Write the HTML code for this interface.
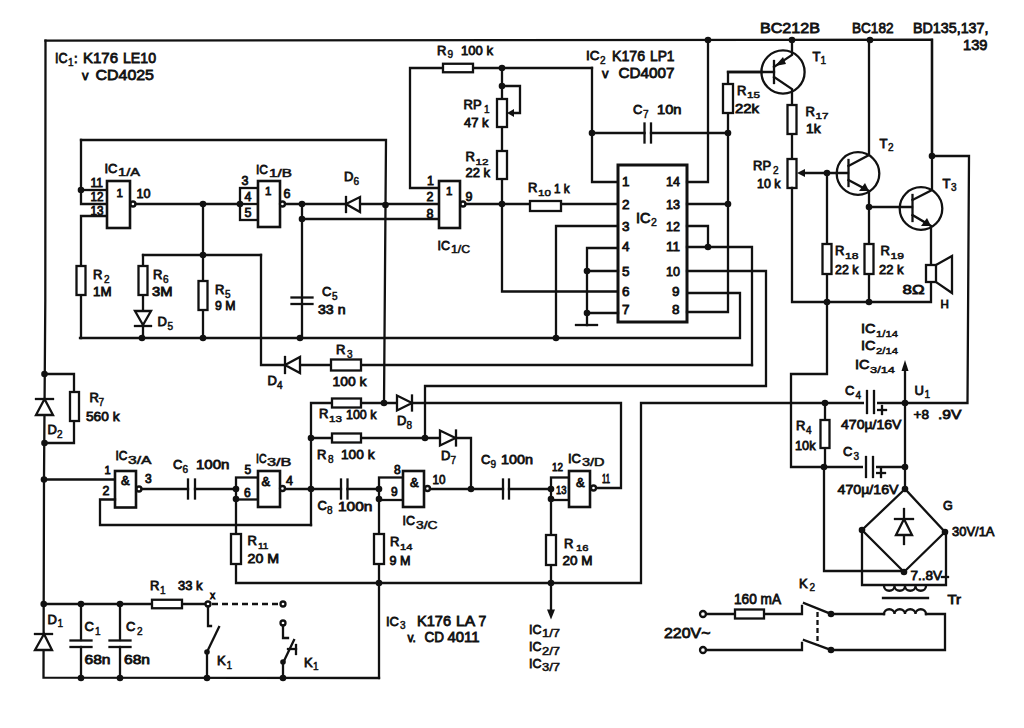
<!DOCTYPE html>
<html><head><meta charset="utf-8"><title>Schematic</title>
<style>
html,body{margin:0;padding:0;background:#fff;width:1024px;height:728px;overflow:hidden}
svg{display:block}
polyline,line,path.n{fill:none;stroke:#111;stroke-width:2.3;stroke-linejoin:miter;stroke-linecap:square}
line{stroke-linecap:butt}
.w{fill:#fff;stroke:#111;stroke-width:2.3}
.d{fill:#111;stroke:none}
text.s{stroke-width:0.5px}
text{font-family:"Liberation Sans",sans-serif;fill:#111;font-weight:normal;stroke:#111;stroke-width:0.8px}
</style></head>
<body>
<svg width="1024" height="728" viewBox="0 0 1024 728">
<rect width="1024" height="728" fill="#fff"/>
<polyline points="45.5,40.7 932,39.6 932,156"/>
<polyline points="45.5,40.7 45.3,300 44,480 43.5,677.7 379,678"/>
<polyline points="81,140 386,140 384,403"/>
<polyline points="81,140 81,204 107,204"/>
<polyline points="81,190 107,190"/>
<circle cx="81" cy="190" r="3.3" class="d"/>
<polyline points="107,216 81,216 81,338"/>
<rect x="107" y="181" width="23" height="47" class="w" style="stroke-width:2.6"/>
<circle cx="133" cy="204" r="2.5" class="w"/>
<polyline points="135.5,204 240,204"/>
<circle cx="203" cy="204" r="3.3" class="d"/>
<polyline points="203,204 203,338"/>
<circle cx="203" cy="255" r="3.3" class="d"/>
<polyline points="143,255 261,255"/>
<polyline points="143,255 143,338"/>
<polyline points="261,255 261,365 752,365"/>
<polyline points="80,338 740,338 740,293 687,293"/>
<circle cx="142" cy="338" r="3.3" class="d"/>
<circle cx="203" cy="338" r="3.3" class="d"/>
<rect x="76.5" y="266" width="9.0" height="29" class="w"/>
<rect x="138.5" y="266" width="9.0" height="29" class="w"/>
<rect x="198.5" y="281" width="9.0" height="29" class="w"/>
<polygon points="135,311 151,311 143,325" class="w"/>
<polyline points="135,326 151,326"/>
<rect x="240" y="188" width="18" height="32" class="w"/>
<polyline points="240,204 258,204"/>
<rect x="258" y="181" width="22" height="46" class="w" style="stroke-width:2.6"/>
<circle cx="282.5" cy="204" r="2.5" class="w"/>
<circle cx="240" cy="204" r="3.3" class="d"/>
<polyline points="285,204 439,204"/>
<circle cx="302" cy="204" r="3.3" class="d"/>
<circle cx="302" cy="219" r="3.3" class="d"/>
<polyline points="302,204 302,338"/>
<polyline points="302,219 439,219"/>
<polyline points="291.5,297.5 312.5,297.5"/>
<polyline points="291.5,304 312.5,304"/>
<circle cx="300" cy="338" r="3.3" class="d"/>
<circle cx="385.5" cy="205" r="3.3" class="d"/>
<polygon points="346,204 360,197 360,212" class="w"/>
<polyline points="346,197 346,212"/>
<polyline points="439,188 410,188 410,68 592,68"/>
<rect x="443" y="63.75" width="30" height="8.5" class="w"/>
<circle cx="502" cy="68" r="3.3" class="d"/>
<rect x="439" y="181" width="21" height="47" class="w" style="stroke-width:2.6"/>
<circle cx="463" cy="204" r="2.5" class="w"/>
<polyline points="465.5,204 617,204"/>
<circle cx="502" cy="204" r="3.3" class="d"/>
<rect x="530" y="201.0" width="31" height="10.0" class="w"/>
<polyline points="502,68 502,291.5 618,291.5"/>
<rect x="497.0" y="99" width="10.0" height="28" class="w"/>
<rect x="497.0" y="151" width="10.0" height="28" class="w"/>
<circle cx="502" cy="86" r="3.3" class="d"/>
<polyline points="502,86 520,86 520,113 512,113"/>
<polygon points="507,113 514,109 514,117" class="d"/>
<polyline points="592,68 592,182 617,182"/>
<circle cx="592" cy="133" r="3.3" class="d"/>
<polyline points="592,133 644.5,133"/>
<polyline points="651,133 728,133"/>
<polyline points="644.5,123.5 644.5,142.5"/>
<polyline points="651,123.5 651,142.5"/>
<rect x="618" y="165" width="69" height="157" class="w" style="stroke-width:3"/>
<polyline points="556,338 556,226 617,226"/>
<circle cx="556" cy="338" r="3.3" class="d"/>
<polyline points="617,248 587,248 587,325"/>
<polyline points="576,325 597,325"/>
<polyline points="587,271 618,271"/>
<polyline points="587,313 618,313"/>
<circle cx="587" cy="271" r="3.3" class="d"/>
<circle cx="587" cy="313" r="3.3" class="d"/>
<polyline points="687,182 708,182 708,40"/>
<circle cx="708" cy="40" r="3.3" class="d"/>
<polyline points="687,204 728,204"/>
<circle cx="728" cy="204" r="3.3" class="d"/>
<polyline points="687,226 708,226 708,247"/>
<polyline points="687,247 752,247 752,365"/>
<circle cx="708" cy="247" r="3.3" class="d"/>
<polyline points="687,271 766,271 766,386 425,386 425,438"/>
<polyline points="687,312 728,312 728,72 762,72"/>
<circle cx="728" cy="133" r="3.3" class="d"/>
<rect x="723.0" y="84" width="10.0" height="29" class="w"/>
<polygon points="285,365 300,357 300,373" class="w"/>
<polyline points="285,357 285,373"/>
<rect x="331" y="359.5" width="30" height="11.0" class="w"/>
<polyline points="311,525 311,403 397,403"/>
<rect x="332" y="398.5" width="29" height="9.0" class="w"/>
<circle cx="384" cy="403" r="3.3" class="d"/>
<polygon points="397,395.5 397,410.5 412,403" class="w"/>
<polyline points="412,395.5 412,410.5"/>
<polyline points="412,403 621,403 621,488 596,488"/>
<polyline points="311,438 440,438"/>
<rect x="332" y="433.5" width="29" height="9.0" class="w"/>
<circle cx="311" cy="438" r="3.3" class="d"/>
<circle cx="425" cy="438" r="3.3" class="d"/>
<polygon points="440,430.5 440,445.5 455.5,438" class="w"/>
<polyline points="456,430.5 456,445.5"/>
<polyline points="456,438 471,438 471,489"/>
<circle cx="471" cy="489" r="3.3" class="d"/>
<circle cx="44" cy="479.5" r="3.3" class="d"/>
<polyline points="44,479.5 115,479.5"/>
<rect x="115" y="471" width="21" height="36.5" class="w" style="stroke-width:2.6"/>
<polyline points="115,499.5 100,499.5 100,525 311,525"/>
<circle cx="139" cy="489" r="2.5" class="w"/>
<polyline points="141.5,489 188,489"/>
<polyline points="195,489 236,489"/>
<polyline points="188,479.5 188,498.5"/>
<polyline points="195,479.5 195,498.5"/>
<rect x="236" y="477.5" width="22" height="22.0" class="w"/>
<rect x="258" y="471" width="22" height="36" class="w" style="stroke-width:2.6"/>
<circle cx="236" cy="489" r="3.3" class="d"/>
<circle cx="236" cy="499" r="3.3" class="d"/>
<circle cx="282.5" cy="488.5" r="2.5" class="w"/>
<polyline points="285,489 341,489"/>
<polyline points="347.5,489 379,489"/>
<polyline points="341,479.5 341,498.5"/>
<polyline points="347.5,479.5 347.5,498.5"/>
<circle cx="311" cy="489" r="3.3" class="d"/>
<polyline points="236,499 236,583 641,583 641,403 967.5,403 969,156 932,156"/>
<rect x="231.0" y="534" width="10.0" height="30" class="w"/>
<circle cx="379" cy="583" r="3.3" class="d"/>
<polyline points="379,499 379,678"/>
<rect x="374.0" y="534" width="10.0" height="30" class="w"/>
<rect x="379" y="477.5" width="24" height="22.5" class="w"/>
<rect x="403" y="471" width="21" height="36" class="w" style="stroke-width:2.6"/>
<circle cx="379" cy="489" r="3.3" class="d"/>
<circle cx="379" cy="499" r="3.3" class="d"/>
<circle cx="427.5" cy="488.5" r="2.5" class="w"/>
<polyline points="430,489 503,489"/>
<polyline points="509,489 551,489"/>
<polyline points="503,479.5 503,498.5"/>
<polyline points="509,479.5 509,498.5"/>
<rect x="551" y="477.5" width="18" height="22.5" class="w"/>
<rect x="569" y="471" width="21" height="36" class="w" style="stroke-width:2.6"/>
<circle cx="551" cy="489" r="3.3" class="d"/>
<circle cx="551" cy="499" r="3.3" class="d"/>
<circle cx="593.5" cy="488" r="2.5" class="w"/>
<polyline points="551,499 551,611"/>
<rect x="546.0" y="535" width="10.0" height="30" class="w"/>
<circle cx="551" cy="583" r="3.3" class="d"/>
<polygon points="547,609.5 555,609.5 551,619.5" class="d"/>
<circle cx="44.5" cy="374" r="3.3" class="d"/>
<circle cx="44.5" cy="443" r="3.3" class="d"/>
<polyline points="44.5,374 74,374 74,443 44.5,443"/>
<rect x="70.0" y="392" width="9.0" height="29" class="w"/>
<polygon points="44.5,399 36,415 53,415" class="w"/>
<polyline points="36,399 53,399"/>
<polyline points="43.7,604 205.5,604"/>
<circle cx="43.7" cy="604" r="3.3" class="d"/>
<circle cx="81" cy="604" r="3.3" class="d"/>
<circle cx="120" cy="604" r="3.3" class="d"/>
<rect x="152" y="599.75" width="30" height="8.5" class="w"/>
<circle cx="208" cy="604" r="2.5" class="w"/>
<line x1="212" y1="604" x2="280" y2="604" stroke-dasharray="6,4"/>
<circle cx="283" cy="604" r="2.5" class="w"/>
<polygon points="44,634 35,650 52,650" class="w"/>
<polyline points="35,634 52,634"/>
<polyline points="81,604 81,640"/>
<polyline points="81,647 81,678"/>
<polyline points="70.5,640.5 91.5,640.5"/>
<polyline points="70.5,647 91.5,647"/>
<polyline points="120,604 120,640"/>
<polyline points="120,647 120,678"/>
<polyline points="109.5,640.5 130.5,640.5"/>
<polyline points="109.5,647 130.5,647"/>
<circle cx="81" cy="678" r="3.3" class="d"/>
<circle cx="120" cy="678" r="3.3" class="d"/>
<circle cx="207" cy="678" r="3.3" class="d"/>
<circle cx="283" cy="678" r="3.3" class="d"/>
<polyline points="208,606.5 208,626 211,626"/>
<polyline points="207,652 219,627"/>
<circle cx="207" cy="652" r="2.8" class="d"/>
<polyline points="207,652 207,678"/>
<circle cx="283" cy="623" r="2.5" class="w"/>
<polyline points="283,625.5 283,638 288,638"/>
<polyline points="283,663 294,640"/>
<polyline points="288,649 296,649"/>
<polyline points="296,645 296,654"/>
<circle cx="283" cy="662" r="2.8" class="d"/>
<polyline points="283,662 283,678"/>
<circle cx="792" cy="40" r="3.3" class="d"/>
<circle cx="783" cy="72" r="21.6" fill="none" style="stroke:#111;stroke-width:2.3"/>
<polyline points="728,72 774,72"/>
<polyline points="774,61 774,83"/>
<polyline points="774,67 792,55 792,40"/>
<polygon points="775,66 783,57 786,64" class="d"/>
<polyline points="774,77 792,89 792,159"/>
<rect x="787.5" y="105" width="9.0" height="29" class="w"/>
<rect x="787.5" y="159" width="9.0" height="29" class="w"/>
<polyline points="792,188 792,302 931,302 931,282"/>
<polygon points="797,173 805,169 805,177" class="d"/>
<polyline points="805,173 848,173"/>
<circle cx="827" cy="173" r="3.3" class="d"/>
<polyline points="827,173 827,302"/>
<rect x="822.5" y="244" width="9.0" height="30" class="w"/>
<circle cx="827" cy="302" r="3.3" class="d"/>
<circle cx="869" cy="302" r="3.3" class="d"/>
<circle cx="870" cy="40" r="3.3" class="d"/>
<circle cx="858" cy="173.5" r="21.3" fill="none" style="stroke:#111;stroke-width:2.3"/>
<polyline points="848.5,160 848.5,186"/>
<polyline points="848.5,166 869,155 869,40"/>
<polyline points="848.5,180 869,191 869,302"/>
<polygon points="869,191 859,191 865,183" class="d"/>
<circle cx="869" cy="207" r="3.3" class="d"/>
<polyline points="869,207 912,207"/>
<rect x="864.5" y="244" width="9.0" height="30" class="w"/>
<circle cx="921" cy="208.5" r="21.3" fill="none" style="stroke:#111;stroke-width:2.3"/>
<polyline points="912.5,195 912.5,221"/>
<polyline points="912.5,200 932,190 932,40"/>
<polyline points="912.5,215 931,226 931,265"/>
<polygon points="931,226 921,226 927,218" class="d"/>
<circle cx="932" cy="156" r="3.3" class="d"/>
<rect x="926" y="265" width="10" height="17" class="w"/>
<polyline points="936,265 952,256 952,293 936,282"/>
<polyline points="827,302 827,374 791,374 791,467 905,467"/>
<polyline points="878,410 886,410"/>
<polyline points="882,406 882,414"/>
<polyline points="877,473 885,473"/>
<polyline points="881,469 881,477"/>
<circle cx="825" cy="403" r="3.3" class="d"/>
<circle cx="905" cy="403" r="3.3" class="d"/>
<polyline points="825,403 825,467"/>
<rect x="820.5" y="420" width="9.0" height="28" class="w"/>
<rect x="864" y="390" width="13" height="24" fill="#fff" stroke="none"/>
<polyline points="867,391 867,413"/>
<polyline points="874,391 874,413"/>
<rect x="863" y="456" width="13" height="22" fill="#fff" stroke="none"/>
<polyline points="866,457 866,477"/>
<polyline points="873,457 873,477"/>
<polyline points="905,371 905,489"/>
<polygon points="905,360 901.5,371 908.5,371" class="d"/>
<circle cx="824" cy="467" r="3.3" class="d"/>
<circle cx="905" cy="467" r="3.3" class="d"/>
<polyline points="824,467 824,571 904,571"/>
<polygon points="905,489 862,530 904,572 945,532" class="w"/>
<circle cx="905" cy="489" r="3.3" class="d"/>
<circle cx="862" cy="530" r="3.3" class="d"/>
<circle cx="904" cy="572" r="3.3" class="d"/>
<circle cx="945" cy="532" r="3.3" class="d"/>
<polyline points="904,509 904,544"/>
<polyline points="895,519 913,519"/>
<polygon points="904,519 896,535 912,535" class="w"/>
<polyline points="862,530 862,585 946,585 946,532"/>
<path d="M884,586 a5.25,4.7250000000000005 0 0 0 10.5,0 a5.25,4.7250000000000005 0 0 0 10.5,0 a5.25,4.7250000000000005 0 0 0 10.5,0 a5.25,4.7250000000000005 0 0 0 10.5,0" class="n"/>
<polyline points="883,598 928,598"/>
<path d="M884,614 a5.25,4.7250000000000005 0 0 1 10.5,0 a5.25,4.7250000000000005 0 0 1 10.5,0 a5.25,4.7250000000000005 0 0 1 10.5,0 a5.25,4.7250000000000005 0 0 1 10.5,0" class="n"/>
<circle cx="703" cy="614" r="3" class="w"/>
<circle cx="703" cy="650" r="3" class="w"/>
<polyline points="706,614 802,614 802,606"/>
<rect x="735" y="609.5" width="29" height="9.0" class="w"/>
<polyline points="706,650 802,650 802,643"/>
<polyline points="804,603 831,614"/>
<polyline points="804,640 831,650"/>
<circle cx="831" cy="614" r="3.3" class="d"/>
<circle cx="831" cy="650" r="3.3" class="d"/>
<polyline points="831,614 884,614"/>
<polyline points="926,614 945,614 945,650 831,650"/>
<line x1="817.5" y1="612" x2="817.5" y2="645" stroke-dasharray="5,3"/>
<text x="55" y="63" font-size="14.5" textLength="12.5" lengthAdjust="spacingAndGlyphs">IC</text>
<text x="68" y="66" font-size="10" class="s">1</text>
<text x="74" y="63" font-size="13">:</text>
<text x="83" y="63" font-size="14.5" textLength="35.0" lengthAdjust="spacingAndGlyphs">K176</text>
<text x="123" y="63" font-size="14.5" textLength="33.0" lengthAdjust="spacingAndGlyphs">LE10</text>
<text x="82" y="80" font-size="13">v</text>
<text x="95.5" y="80" font-size="15" textLength="58.5" lengthAdjust="spacingAndGlyphs">CD4025</text>
<text x="104.5" y="172.5" font-size="13.5" textLength="13.0" lengthAdjust="spacingAndGlyphs">IC</text>
<text x="118" y="176" font-size="10" textLength="22.0" lengthAdjust="spacingAndGlyphs" class="s">1/A</text>
<text x="90.5" y="187" font-size="12.5" textLength="12.5" lengthAdjust="spacingAndGlyphs">11</text>
<text x="90.5" y="201" font-size="12.5" textLength="13.0" lengthAdjust="spacingAndGlyphs">12</text>
<text x="90.5" y="214.5" font-size="12.5" textLength="13.0" lengthAdjust="spacingAndGlyphs">13</text>
<text x="116.5" y="197" font-size="11.5">1</text>
<text x="136.5" y="198" font-size="12.5" textLength="14.0" lengthAdjust="spacingAndGlyphs">10</text>
<text x="256" y="173.5" font-size="13.5" textLength="12.0" lengthAdjust="spacingAndGlyphs">IC</text>
<text x="269" y="176.5" font-size="10" textLength="23.0" lengthAdjust="spacingAndGlyphs" class="s">1/B</text>
<text x="241.5" y="185" font-size="12.5">3</text>
<text x="244.5" y="201" font-size="12.5">4</text>
<text x="244.5" y="217" font-size="12.5">5</text>
<text x="265" y="195" font-size="11.5">1</text>
<text x="283.5" y="198" font-size="12.5">6</text>
<text x="344" y="181" font-size="13">D</text>
<text x="353.5" y="184.5" font-size="10" class="s">6</text>
<text x="427" y="185" font-size="12.5">1</text>
<text x="426.5" y="201" font-size="12.5">2</text>
<text x="426.5" y="218" font-size="12.5">8</text>
<text x="446" y="195" font-size="11.5">1</text>
<text x="465.5" y="200.5" font-size="12.5">9</text>
<text x="437.5" y="249.5" font-size="13.5" textLength="12.5" lengthAdjust="spacingAndGlyphs">IC</text>
<text x="451" y="253" font-size="10" textLength="19.0" lengthAdjust="spacingAndGlyphs" class="s">1/C</text>
<text x="93" y="279" font-size="13">R</text>
<text x="104" y="282.5" font-size="10" class="s">2</text>
<text x="93" y="295.5" font-size="12.5" textLength="18.5" lengthAdjust="spacingAndGlyphs">1M</text>
<text x="153" y="279" font-size="13">R</text>
<text x="163" y="282.5" font-size="10" class="s">6</text>
<text x="152" y="295.5" font-size="12.5" textLength="20.5" lengthAdjust="spacingAndGlyphs">3M</text>
<text x="215" y="294" font-size="13">R</text>
<text x="225" y="297.5" font-size="10" class="s">5</text>
<text x="215" y="310" font-size="13" textLength="20.5" lengthAdjust="spacingAndGlyphs">9 M</text>
<text x="157.5" y="326" font-size="13">D</text>
<text x="167.5" y="329.5" font-size="10" class="s">5</text>
<text x="322" y="296" font-size="13">C</text>
<text x="332" y="299.5" font-size="10" class="s">5</text>
<text x="318" y="314" font-size="12.5" textLength="27.5" lengthAdjust="spacingAndGlyphs">33 n</text>
<text x="437" y="54.5" font-size="13">R</text>
<text x="447.5" y="58.0" font-size="10" class="s">9</text>
<text x="461" y="55" font-size="13" textLength="32.0" lengthAdjust="spacingAndGlyphs">100 k</text>
<text x="463.5" y="109" font-size="13">RP</text>
<text x="484" y="112.5" font-size="10" class="s">1</text>
<text x="464" y="127" font-size="12.5" textLength="24.5" lengthAdjust="spacingAndGlyphs">47 k</text>
<text x="465.5" y="161" font-size="13">R</text>
<text x="475.5" y="164.5" font-size="9.5" textLength="13.0" lengthAdjust="spacingAndGlyphs" class="s">12</text>
<text x="465.5" y="177" font-size="12.5" textLength="24.5" lengthAdjust="spacingAndGlyphs">22 k</text>
<text x="528" y="192" font-size="13">R</text>
<text x="538" y="195.5" font-size="9.5" textLength="13.0" lengthAdjust="spacingAndGlyphs" class="s">10</text>
<text x="554" y="192.5" font-size="13" textLength="15.5" lengthAdjust="spacingAndGlyphs">1 k</text>
<text x="586" y="60" font-size="13.5" textLength="13.5" lengthAdjust="spacingAndGlyphs">IC</text>
<text x="600" y="63.5" font-size="10" class="s">2</text>
<text x="612" y="61" font-size="14.5" textLength="33.0" lengthAdjust="spacingAndGlyphs">K176</text>
<text x="650" y="61" font-size="14.5" textLength="24.5" lengthAdjust="spacingAndGlyphs">LP1</text>
<text x="602" y="78" font-size="13">v</text>
<text x="618.5" y="78" font-size="14.5" textLength="56.0" lengthAdjust="spacingAndGlyphs">CD4007</text>
<text x="633" y="114" font-size="13">C</text>
<text x="643" y="117.5" font-size="10" class="s">7</text>
<text x="657" y="114" font-size="13" textLength="24.5" lengthAdjust="spacingAndGlyphs">10n</text>
<text x="622" y="186" font-size="13.5">1</text>
<text x="622" y="209" font-size="13.5">2</text>
<text x="622" y="231" font-size="13.5">3</text>
<text x="622" y="251" font-size="13.5">4</text>
<text x="622" y="276" font-size="13.5">5</text>
<text x="622" y="296" font-size="13.5">6</text>
<text x="622" y="314" font-size="13.5">7</text>
<text x="666" y="186" font-size="13.5" textLength="14.0" lengthAdjust="spacingAndGlyphs">14</text>
<text x="666" y="209" font-size="13.5" textLength="14.0" lengthAdjust="spacingAndGlyphs">13</text>
<text x="666" y="231" font-size="13.5" textLength="14.0" lengthAdjust="spacingAndGlyphs">12</text>
<text x="666" y="251" font-size="13.5" textLength="14.0" lengthAdjust="spacingAndGlyphs">11</text>
<text x="666" y="276" font-size="13.5" textLength="14.0" lengthAdjust="spacingAndGlyphs">10</text>
<text x="672" y="296" font-size="13.5">9</text>
<text x="672" y="314" font-size="13.5">8</text>
<text x="636" y="222.5" font-size="14" textLength="14.5" lengthAdjust="spacingAndGlyphs">IC</text>
<text x="651" y="226" font-size="10.5" class="s">2</text>
<text x="760" y="32.5" font-size="14.5" textLength="60.0" lengthAdjust="spacingAndGlyphs">BC212B</text>
<text x="852" y="32.5" font-size="14.5" textLength="41.5" lengthAdjust="spacingAndGlyphs">BC182</text>
<text x="913" y="32.5" font-size="14.5" textLength="75.5" lengthAdjust="spacingAndGlyphs">BD135,137,</text>
<text x="963" y="50" font-size="14.5" textLength="24.5" lengthAdjust="spacingAndGlyphs">139</text>
<text x="812.5" y="60.5" font-size="13">T</text>
<text x="820.5" y="64.0" font-size="10" class="s">1</text>
<text x="737" y="94.5" font-size="13">R</text>
<text x="747" y="98.0" font-size="9.5" textLength="13.0" lengthAdjust="spacingAndGlyphs" class="s">15</text>
<text x="735" y="112.5" font-size="12.5" textLength="24.0" lengthAdjust="spacingAndGlyphs">22k</text>
<text x="805.5" y="115.5" font-size="13">R</text>
<text x="815.5" y="119.0" font-size="9.5" textLength="13.0" lengthAdjust="spacingAndGlyphs" class="s">17</text>
<text x="806" y="132.5" font-size="12.5" textLength="14.5" lengthAdjust="spacingAndGlyphs">1k</text>
<text x="753" y="170" font-size="13">RP</text>
<text x="773" y="173.5" font-size="10" class="s">2</text>
<text x="757" y="187.5" font-size="12.5" textLength="23.5" lengthAdjust="spacingAndGlyphs">10 k</text>
<text x="879.5" y="147.5" font-size="13">T</text>
<text x="888" y="151.0" font-size="10" class="s">2</text>
<text x="942.5" y="187.5" font-size="13">T</text>
<text x="951" y="191.0" font-size="10" class="s">3</text>
<text x="835" y="255" font-size="13">R</text>
<text x="845" y="258.5" font-size="9.5" textLength="13.5" lengthAdjust="spacingAndGlyphs" class="s">18</text>
<text x="835" y="274" font-size="13" textLength="23.5" lengthAdjust="spacingAndGlyphs">22 k</text>
<text x="880.5" y="255" font-size="13">R</text>
<text x="890.5" y="258.5" font-size="9.5" textLength="13.5" lengthAdjust="spacingAndGlyphs" class="s">19</text>
<text x="879" y="274" font-size="13" textLength="24.5" lengthAdjust="spacingAndGlyphs">22 k</text>
<text x="902.5" y="294" font-size="13" textLength="22.0" lengthAdjust="spacingAndGlyphs">8Ω</text>
<text x="940.5" y="307.5" font-size="11.5">H</text>
<text x="861" y="332.5" font-size="13.5" textLength="14.5" lengthAdjust="spacingAndGlyphs">IC</text>
<text x="876" y="336.5" font-size="9.5" textLength="22.0" lengthAdjust="spacingAndGlyphs" class="s">1/14</text>
<text x="861" y="350" font-size="13.5" textLength="14.5" lengthAdjust="spacingAndGlyphs">IC</text>
<text x="876" y="354" font-size="9.5" textLength="22.0" lengthAdjust="spacingAndGlyphs" class="s">2/14</text>
<text x="855" y="369" font-size="13.5" textLength="14.5" lengthAdjust="spacingAndGlyphs">IC</text>
<text x="870" y="373" font-size="9.5" textLength="25.0" lengthAdjust="spacingAndGlyphs" class="s">3/14</text>
<text x="914.5" y="394.5" font-size="13">U</text>
<text x="924.5" y="398.0" font-size="10" class="s">1</text>
<text x="913.5" y="419" font-size="13.5" textLength="15.5" lengthAdjust="spacingAndGlyphs">+8</text>
<text x="938" y="419" font-size="13.5" textLength="23.5" lengthAdjust="spacingAndGlyphs">.9V</text>
<text x="845" y="395" font-size="13">C</text>
<text x="855.5" y="398.5" font-size="10" class="s">4</text>
<text x="841" y="429" font-size="13.5" textLength="60.5" lengthAdjust="spacingAndGlyphs">470µ/16V</text>
<text x="796" y="430" font-size="13">R</text>
<text x="806" y="433.5" font-size="10" class="s">4</text>
<text x="795" y="450" font-size="13" textLength="20.5" lengthAdjust="spacingAndGlyphs">10k</text>
<text x="843" y="456" font-size="13">C</text>
<text x="853.5" y="459.5" font-size="10" class="s">3</text>
<text x="837.5" y="494" font-size="13.5" textLength="61.0" lengthAdjust="spacingAndGlyphs">470µ/16V</text>
<text x="943" y="510" font-size="12.5">G</text>
<text x="952" y="536" font-size="13.5" textLength="42.5" lengthAdjust="spacingAndGlyphs">30V/1A</text>
<text x="910.5" y="580" font-size="13" textLength="31.5" lengthAdjust="spacingAndGlyphs">7..8V</text>
<polyline points="942,577 948,577"/>
<text x="799" y="587.5" font-size="13">K</text>
<text x="809.5" y="591.0" font-size="10" class="s">2</text>
<text x="947.5" y="604" font-size="12.5" textLength="13.5" lengthAdjust="spacingAndGlyphs">Tr</text>
<text x="734" y="603.5" font-size="14.5" textLength="47.0" lengthAdjust="spacingAndGlyphs">160 mA</text>
<text x="664" y="638" font-size="14.5" textLength="46.5" lengthAdjust="spacingAndGlyphs">220V~</text>
<text x="89.5" y="402" font-size="13">R</text>
<text x="98.5" y="405.5" font-size="10" class="s">7</text>
<text x="86" y="421" font-size="13" textLength="33.5" lengthAdjust="spacingAndGlyphs">560 k</text>
<text x="47.5" y="434" font-size="13">D</text>
<text x="57" y="437.5" font-size="10" class="s">2</text>
<text x="115.5" y="460" font-size="13.5" textLength="12.0" lengthAdjust="spacingAndGlyphs">IC</text>
<text x="128" y="464" font-size="10" textLength="23.5" lengthAdjust="spacingAndGlyphs" class="s">3/A</text>
<text x="104.5" y="474" font-size="11">1</text>
<text x="102.5" y="495" font-size="12.5">2</text>
<text x="145" y="483" font-size="12">3</text>
<text x="121" y="485" font-size="13">&amp;</text>
<text x="173" y="469" font-size="13">C</text>
<text x="182.5" y="472.5" font-size="10" class="s">6</text>
<text x="196" y="469" font-size="13" textLength="33.5" lengthAdjust="spacingAndGlyphs">100n</text>
<text x="256" y="462.5" font-size="13.5" textLength="10.5" lengthAdjust="spacingAndGlyphs">IC</text>
<text x="267" y="466" font-size="10" textLength="24.5" lengthAdjust="spacingAndGlyphs" class="s">3/B</text>
<text x="244.5" y="473.5" font-size="12">5</text>
<text x="244" y="496.5" font-size="12">6</text>
<text x="261.5" y="486" font-size="13">&amp;</text>
<text x="286" y="485" font-size="12.5">4</text>
<text x="319" y="418" font-size="13">R</text>
<text x="329" y="421.5" font-size="9.5" textLength="13.0" lengthAdjust="spacingAndGlyphs" class="s">13</text>
<text x="346" y="419" font-size="13" textLength="30.5" lengthAdjust="spacingAndGlyphs">100 k</text>
<text x="317" y="459" font-size="13">R</text>
<text x="328" y="462.5" font-size="10" class="s">8</text>
<text x="341" y="459" font-size="13" textLength="33.5" lengthAdjust="spacingAndGlyphs">100 k</text>
<text x="336" y="354" font-size="13">R</text>
<text x="347" y="357.5" font-size="10" class="s">3</text>
<text x="332.5" y="385.5" font-size="13" textLength="34.0" lengthAdjust="spacingAndGlyphs">100 k</text>
<text x="267.5" y="385" font-size="13">D</text>
<text x="277" y="388.5" font-size="10" class="s">4</text>
<text x="397" y="425" font-size="13">D</text>
<text x="406.5" y="428.5" font-size="10" class="s">8</text>
<text x="441" y="460" font-size="13">D</text>
<text x="450.5" y="463.5" font-size="10" class="s">7</text>
<text x="317.5" y="510" font-size="13">C</text>
<text x="327" y="513.5" font-size="10" class="s">8</text>
<text x="338" y="511" font-size="13" textLength="34.5" lengthAdjust="spacingAndGlyphs">100n</text>
<text x="394" y="474" font-size="12">8</text>
<text x="391" y="496" font-size="12">9</text>
<text x="410" y="487" font-size="13">&amp;</text>
<text x="432.5" y="484" font-size="12.5" textLength="13.0" lengthAdjust="spacingAndGlyphs">10</text>
<text x="402.5" y="525" font-size="13.5" textLength="12.5" lengthAdjust="spacingAndGlyphs">IC</text>
<text x="416" y="528.5" font-size="10" textLength="21.5" lengthAdjust="spacingAndGlyphs" class="s">3/C</text>
<text x="481" y="464" font-size="13">C</text>
<text x="490.5" y="467.5" font-size="10" class="s">9</text>
<text x="501" y="463.5" font-size="13" textLength="32.0" lengthAdjust="spacingAndGlyphs">100n</text>
<text x="568" y="462.5" font-size="13.5" textLength="13.0" lengthAdjust="spacingAndGlyphs">IC</text>
<text x="582" y="466" font-size="10" textLength="22.5" lengthAdjust="spacingAndGlyphs" class="s">3/D</text>
<text x="552" y="471" font-size="11.5" textLength="11.0" lengthAdjust="spacingAndGlyphs">12</text>
<text x="556" y="494" font-size="11.5" textLength="10.5" lengthAdjust="spacingAndGlyphs">13</text>
<text x="576" y="487" font-size="13">&amp;</text>
<text x="602" y="482.5" font-size="12" textLength="8.0" lengthAdjust="spacingAndGlyphs">11</text>
<text x="247.5" y="545" font-size="13">R</text>
<text x="258" y="548.5" font-size="9.5" textLength="10.5" lengthAdjust="spacingAndGlyphs" class="s">11</text>
<text x="247.5" y="562.5" font-size="13" textLength="31.5" lengthAdjust="spacingAndGlyphs">20 M</text>
<text x="390" y="546" font-size="13">R</text>
<text x="400" y="549.5" font-size="9.5" textLength="12.5" lengthAdjust="spacingAndGlyphs" class="s">14</text>
<text x="389.5" y="564.5" font-size="13" textLength="21.0" lengthAdjust="spacingAndGlyphs">9 M</text>
<text x="564" y="547.5" font-size="13">R</text>
<text x="576" y="551.0" font-size="9.5" textLength="12.5" lengthAdjust="spacingAndGlyphs" class="s">16</text>
<text x="562.5" y="565" font-size="13" textLength="30.0" lengthAdjust="spacingAndGlyphs">20 M</text>
<text x="529" y="633.5" font-size="13.5" textLength="12.5" lengthAdjust="spacingAndGlyphs">IC</text>
<text x="542" y="637.0" font-size="10" textLength="18.0" lengthAdjust="spacingAndGlyphs" class="s">1/7</text>
<text x="529" y="651" font-size="13.5" textLength="12.5" lengthAdjust="spacingAndGlyphs">IC</text>
<text x="542" y="654.5" font-size="10" textLength="18.0" lengthAdjust="spacingAndGlyphs" class="s">2/7</text>
<text x="529" y="667.5" font-size="13.5" textLength="12.5" lengthAdjust="spacingAndGlyphs">IC</text>
<text x="542" y="671.0" font-size="10" textLength="18.0" lengthAdjust="spacingAndGlyphs" class="s">3/7</text>
<text x="386" y="625.5" font-size="13.5" textLength="13.0" lengthAdjust="spacingAndGlyphs">IC</text>
<text x="400" y="629" font-size="10" class="s">3</text>
<text x="417" y="625.5" font-size="14" textLength="34.0" lengthAdjust="spacingAndGlyphs">K176</text>
<text x="456" y="625.5" font-size="14" textLength="19.0" lengthAdjust="spacingAndGlyphs">LA</text>
<text x="478.5" y="625.5" font-size="14">7</text>
<text x="407.5" y="642" font-size="12">v.</text>
<text x="424.5" y="642" font-size="14" textLength="19.5" lengthAdjust="spacingAndGlyphs">CD</text>
<text x="447.5" y="642" font-size="14" textLength="32.0" lengthAdjust="spacingAndGlyphs">4011</text>
<text x="150" y="590" font-size="13">R</text>
<text x="160" y="593.5" font-size="10" class="s">1</text>
<text x="178" y="590" font-size="13" textLength="24.5" lengthAdjust="spacingAndGlyphs">33 k</text>
<text x="210" y="598.5" font-size="10.5">x</text>
<text x="47.5" y="623.5" font-size="13">D</text>
<text x="57.5" y="627.0" font-size="10" class="s">1</text>
<text x="84.5" y="631" font-size="13">C</text>
<text x="95" y="634.5" font-size="10" class="s">1</text>
<text x="126" y="631" font-size="13">C</text>
<text x="137" y="634.5" font-size="10" class="s">2</text>
<text x="84.5" y="663.5" font-size="13" textLength="26.0" lengthAdjust="spacingAndGlyphs">68n</text>
<text x="124" y="663.5" font-size="13" textLength="26.0" lengthAdjust="spacingAndGlyphs">68n</text>
<text x="217" y="665" font-size="13">K</text>
<text x="226.5" y="668.5" font-size="10" class="s">1</text>
<text x="304" y="666.5" font-size="13">K</text>
<text x="313" y="670.0" font-size="10" class="s">1</text>
</svg>
</body></html>
